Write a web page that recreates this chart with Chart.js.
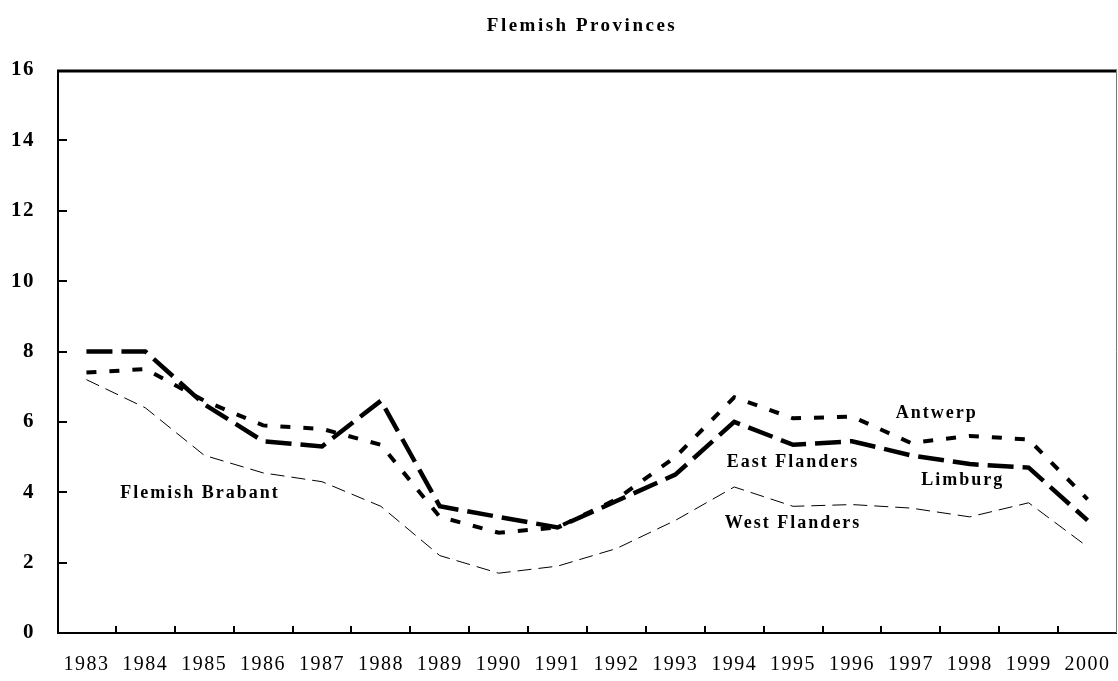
<!DOCTYPE html>
<html>
<head>
<meta charset="utf-8">
<title>Flemish Provinces</title>
<script src="https://cdn.jsdelivr.net/npm/chart.js@4/dist/chart.umd.min.js"></script>
<style>
  html, body {
    margin: 0;
    padding: 0;
    background: #fff;
  }
  #grafico {
    display: block;
  }
</style>
</head>
<body>
<canvas id="grafico" width="1118" height="681"></canvas>
<script>
const titulo = "Flemish Provinces";

const anos = [
  "1983", "1984", "1985", "1986", "1987", "1988", "1989", "1990", "1991",
  "1992", "1993", "1994", "1995", "1996", "1997", "1998", "1999", "2000",
];

const antwerp = [7.4, 7.5, 6.6, 5.9, 5.8, 5.35, 3.3, 2.85, 3.0, 3.8, 5.0, 6.7, 6.1, 6.15, 5.4, 5.6, 5.5, 3.8];
const eastFlanders = [8.0, 8.0, 6.5, 5.45, 5.3, 6.6, 3.6, 3.3, 3.0, 3.75, 4.5, 6.0, 5.35, 5.45, 5.05, 4.8, 4.7, 3.2];
const westFlanders = [7.2, 6.4, 5.05, 4.55, 4.3, 3.6, 2.2, 1.7, 1.9, 2.4, 3.2, 4.15, 3.6, 3.65, 3.55, 3.3, 3.7, 2.45];

const ticksY = [0, 2, 4, 6, 8, 10, 12, 14, 16];

// rótulos escritos dentro do gráfico (posição em índice de ano / valor)
const rotulos = [
  { texto: "Antwerp", ano: 14.44, valor: 6.25 },
  { texto: "East Flanders", ano: 12.0, valor: 4.86 },
  { texto: "Limburg", ano: 14.88, valor: 4.35 },
  { texto: "West Flanders", ano: 12.0, valor: 3.13 },
  { texto: "Flemish Brabant", ano: 1.93, valor: 3.98 },
];

const fonteSerif = "'Liberation Serif', 'DejaVu Serif', serif";

const pluginMoldura = {
  id: "moldura",
  beforeDraw(chart) {
    chart.ctx.letterSpacing = "1.5px";
  },
  afterDraw(chart) {
    const ctx = chart.ctx;
    const area = chart.chartArea;
    const x = chart.scales.x;
    const y = chart.scales.y;

    ctx.save();
    ctx.lineCap = "butt";

    // moldura
    ctx.strokeStyle = "#000";
    ctx.lineWidth = 3;
    ctx.beginPath();
    ctx.moveTo(area.left, area.top + 1);
    ctx.lineTo(area.right, area.top + 1);
    ctx.stroke();

    ctx.lineWidth = 2;
    ctx.beginPath();
    ctx.moveTo(area.left + 1, area.top);
    ctx.lineTo(area.left + 1, area.bottom);
    ctx.moveTo(area.left, area.bottom);
    ctx.lineTo(area.right, area.bottom);
    ctx.stroke();

    ctx.strokeStyle = "#777";
    ctx.lineWidth = 1;
    ctx.beginPath();
    ctx.moveTo(area.right - 0.5, area.top);
    ctx.lineTo(area.right - 0.5, area.bottom);
    ctx.stroke();

    // marcas para dentro
    ctx.strokeStyle = "#000";
    ctx.lineWidth = 2;
    ctx.beginPath();
    ticksY.forEach((v) => {
      if (v === 0 || v === 16) return;
      const py = Math.round(y.getPixelForValue(v));
      ctx.moveTo(area.left, py);
      ctx.lineTo(area.left + 10, py);
    });
    for (let i = 1; i < anos.length; i++) {
      const px = Math.round(x.getPixelForValue(i - 0.5));
      ctx.moveTo(px, area.bottom);
      ctx.lineTo(px, area.bottom - 7);
    }
    ctx.stroke();

    // título
    ctx.fillStyle = "#000";
    ctx.letterSpacing = "2.5px";
    ctx.font = "bold 19px " + fonteSerif;
    ctx.textAlign = "center";
    ctx.textBaseline = "middle";
    ctx.fillText(titulo, 582, 26);

    // rótulos das províncias
    ctx.letterSpacing = "2px";
    ctx.font = "bold 18px " + fonteSerif;
    rotulos.forEach((r) => {
      ctx.fillText(r.texto, x.getPixelForValue(r.ano), y.getPixelForValue(r.valor));
    });

    ctx.restore();
  },
};

const ctx = document.getElementById("grafico");

new Chart(ctx, {
  type: "line",
  data: {
    labels: anos,
    datasets: [
      {
        label: "East Flanders",
        data: eastFlanders,
        borderColor: "#000",
        borderWidth: 4.5,
        borderDash: [26, 9],
        pointRadius: 0,
        tension: 0,
      },
      {
        label: "Antwerp",
        data: antwerp,
        borderColor: "#000",
        borderWidth: 4,
        borderDash: [10, 13],
        pointRadius: 0,
        tension: 0,
      },
      {
        label: "West Flanders",
        data: westFlanders,
        borderColor: "#000",
        borderWidth: 1,
        borderDash: [14, 7],
        pointRadius: 0,
        tension: 0,
      },
    ],
  },
  options: {
    responsive: false,
    animation: false,
    devicePixelRatio: 1,
    layout: {
      padding: { top: 70, right: 1, left: 0, bottom: 0 },
    },
    plugins: {
      legend: { display: false },
      title: { display: false },
      tooltip: { enabled: false },
    },
    scales: {
      x: {
        offset: true,
        grid: { display: false, drawTicks: false },
        border: { display: false },
        ticks: {
          color: "#000",
          padding: 20,
          maxRotation: 0,
          autoSkip: false,
          font: { family: fonteSerif, size: 20 },
        },
        afterFit(scale) {
          scale.height = 48;
          scale.paddingLeft = 0;
          scale.paddingRight = 0;
        },
      },
      y: {
        min: 0,
        max: 16,
        grid: { display: false, drawTicks: false },
        border: { display: false },
        afterBuildTicks(scale) {
          scale.ticks = ticksY.map((v) => ({ value: v }));
        },
        ticks: {
          color: "#000",
          padding: 22,
          font: { family: fonteSerif, size: 21, weight: "bold" },
        },
        afterFit(scale) {
          scale.width = 57;
          scale.paddingTop = 0;
          scale.paddingBottom = 0;
        },
      },
    },
  },
  plugins: [pluginMoldura],
});
</script>
</body>
</html>
